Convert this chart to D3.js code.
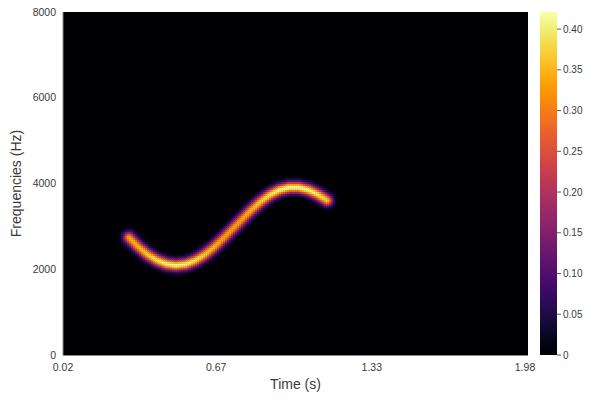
<!DOCTYPE html>
<html><head><meta charset="utf-8">
<script src="https://cdn.jsdelivr.net/npm/d3@7"></script>
<style>body{margin:0;background:#fff}text{font-family:"Liberation Sans",Arial,Helvetica,sans-serif}</style>
</head><body><svg id="c" width="600" height="400"></svg>
<script>
// ridge of the spectrogram
const ridgeTimes = [0.30,0.34,0.38,0.42,0.46,0.50,0.54,0.58,0.62,0.66,0.70,0.74,0.78,0.82,0.86,0.90,0.94,0.98,1.02,1.06,1.10,1.14];
const ridgeFreqs = [2750,2530,2350,2215,2130,2100,2125,2210,2345,2520,2730,2950,3175,3395,3590,3750,3860,3915,3915,3860,3755,3615];
const ridgePeaks = [0.35,0.36,0.38,0.40,0.415,0.421,0.415,0.40,0.38,0.36,0.35,0.345,0.35,0.36,0.38,0.40,0.415,0.421,0.421,0.415,0.40,0.38];
const xTicks = [0.02,0.67,1.33,1.98];
const yTicks = [0,2000,4000,6000,8000];
const cTicks = [0,0.05,0.10,0.15,0.20,0.25,0.30,0.35,0.40];
const tStart = 0.02, tEnd = 1.993, tStep = 0.0085;
const fMax = 8000, fStep = 46.5;
const vMax = 0.421;

const svg = d3.select("#c");
const L = 63, R = 528, T = 12, B = 355;
const x = d3.scaleLinear().domain([0.02, 1.98]).range([L, 525]);
const y = d3.scaleLinear().domain([0, fMax]).range([B, T]);
const color = d3.scaleSequential(d3.interpolateInferno).domain([0, vMax]);

svg.append("rect").attr("x", L).attr("y", T).attr("width", R - L).attr("height", B - T).attr("fill", color(0));

// ridge points in pixel space
const pts = ridgeTimes.map((t, i) => [x(t), y(ridgeFreqs[i]), ridgePeaks[i]]);
const sigma = 4.0;
function valueAt(px, py) {
  let best = Infinity, amp = 0;
  for (let i = 0; i < pts.length - 1; i++) {
    const [x1, y1, a1] = pts[i], [x2, y2, a2] = pts[i + 1];
    const dx = x2 - x1, dy = y2 - y1;
    let u = ((px - x1) * dx + (py - y1) * dy) / (dx * dx + dy * dy);
    u = Math.max(0, Math.min(1, u));
    const qx = x1 + u * dx, qy = y1 + u * dy;
    const d2 = (px - qx) ** 2 + (py - qy) ** 2;
    if (d2 < best) { best = d2; amp = a1 + u * (a2 - a1); }
  }
  return amp * Math.exp(-best / (2 * sigma * sigma));
}
const cells = [];
const nT = Math.round((tEnd - tStart) / tStep);
const nF = Math.round(fMax / fStep);
for (let i = 0; i < nT; i++) {
  const t0 = tStart + i * tStep, t1 = t0 + tStep;
  for (let j = 0; j < nF; j++) {
    const f0 = j * fStep, f1 = Math.min(fMax, f0 + fStep);
    const v = valueAt((x(t0) + x(t1)) / 2, (y(f0) + y(f1)) / 2);
    if (v > 0.003) cells.push({t0, t1, f0, f1, v});
  }
}
svg.append("g").selectAll("rect").data(cells).join("rect")
  .attr("x", d => x(d.t0)).attr("y", d => y(d.f1))
  .attr("width", d => x(d.t1) - x(d.t0) + 0.4).attr("height", d => y(d.f0) - y(d.f1) + 0.4)
  .attr("fill", d => color(d.v));

// axes
const tc = "#3a3a3a";
svg.append("line").attr("x1", L).attr("x2", L).attr("y1", T).attr("y2", B).attr("stroke", "#888").attr("stroke-width", 1);
svg.append("line").attr("x1", L).attr("x2", R).attr("y1", B + 0.5).attr("y2", B + 0.5).attr("stroke", "#888").attr("stroke-width", 1);
svg.append("g").selectAll("text").data(yTicks).join("text")
  .attr("x", L - 7).attr("y", d => y(d)).attr("dy", "0.35em").attr("text-anchor", "end")
  .attr("font-size", 10.5).attr("fill", tc).text(d => d);
svg.append("g").selectAll("text").data(xTicks).join("text")
  .attr("x", d => x(d)).attr("y", 367).attr("dy", "0.35em").attr("text-anchor", "middle")
  .attr("font-size", 10.5).attr("fill", tc).text(d => d.toFixed(2));
svg.append("text").attr("x", (L + R) / 2).attr("y", 384).attr("dy", "0.35em").attr("text-anchor", "middle")
  .attr("font-size", 14).attr("fill", tc).text("Time (s)");
svg.append("text").attr("transform", `translate(16,${(T + B) / 2}) rotate(-90)`).attr("dy", "0.35em")
  .attr("text-anchor", "middle").attr("font-size", 14).attr("fill", tc).text("Frequencies (Hz)");

// colorbar
const cy = d3.scaleLinear().domain([0, vMax]).range([B, T]);
const grad = svg.append("defs").append("linearGradient").attr("id", "cb").attr("x1", 0).attr("x2", 0).attr("y1", 1).attr("y2", 0);
d3.range(0, 1.0001, 0.02).forEach(s => grad.append("stop").attr("offset", s).attr("stop-color", color(s * vMax)));
svg.append("rect").attr("x", 540).attr("y", T).attr("width", 17).attr("height", B - T).attr("fill", "url(#cb)");
const cg = svg.append("g");
cg.selectAll("line").data(cTicks).join("line")
  .attr("x1", 557).attr("x2", 561).attr("y1", d => cy(d)).attr("y2", d => cy(d)).attr("stroke", "#555");
cg.selectAll("text").data(cTicks).join("text")
  .attr("x", 563).attr("y", d => cy(d)).attr("dy", "0.35em").attr("font-size", 10).attr("fill", tc)
  .text(d => d === 0 ? "0" : d.toFixed(2));
</script></body></html>
